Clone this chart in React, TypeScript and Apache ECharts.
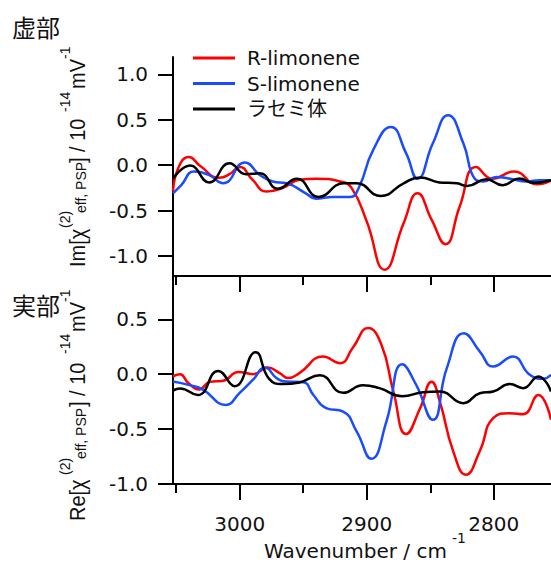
import React, { useEffect, useRef } from "react";
import * as echarts from "echarts";

const seriesNames = ["R-limonene", "S-limonene", "ラセミ体"];
const seriesColors = ["#ff0000", "#1a4bff", "#000000"];

// 虚部 (imaginary part)
const imRWave = [3052.5, 3048, 3040, 3031, 3016, 3008, 3000, 2990, 2979, 2966, 2953, 2940, 2921, 2912, 2900, 2886, 2871, 2860, 2849, 2838, 2827, 2814, 2801, 2784, 2766, 2755];
const imRVal = [-0.29, -0.02, 0.09, -0.01, -0.14, -0.1, -0.02, -0.16, -0.29, -0.25, -0.16, -0.15, -0.18, -0.25, -0.62, -1.15, -0.64, -0.31, -0.6, -0.87, -0.46, -0.02, -0.15, -0.07, -0.21, -0.17];

const imSWave = [3052.5, 3046, 3036, 3024, 3013, 2996, 2984, 2974, 2963, 2948, 2940, 2927, 2913, 2906, 2895, 2881, 2869, 2860, 2848, 2836, 2824, 2815, 2808, 2798, 2787, 2774, 2764, 2755];
const imSVal = [-0.31, -0.22, -0.07, -0.11, -0.2, 0.03, -0.11, -0.18, -0.2, -0.31, -0.37, -0.35, -0.35, -0.24, 0.165, 0.42, 0.13, -0.15, 0.24, 0.55, 0.24, -0.15, -0.18, -0.13, -0.15, -0.18, -0.165, -0.165];

const imRacWave = [3052.5, 3039, 3024, 3008, 2995, 2984, 2970, 2955, 2938, 2918, 2908, 2889, 2871, 2858, 2843, 2829, 2821, 2806, 2793, 2780, 2769, 2755];
const imRacVal = [-0.15, -0.005, -0.19, 0.02, -0.1, -0.09, -0.26, -0.15, -0.35, -0.2, -0.2, -0.34, -0.2, -0.135, -0.19, -0.2, -0.23, -0.155, -0.22, -0.147, -0.195, -0.165];

// 実部 (real part)
const reRWave = [3052.5, 3047, 3040.5, 3032, 3023.5, 3013, 3001, 2989.5, 2978, 2968.5, 2962, 2953, 2934.5, 2921, 2911, 2899, 2888.5, 2879, 2869, 2858, 2849, 2842.5, 2832, 2822, 2811, 2800.5, 2787.5, 2777, 2765, 2755];
const reRVal = [-0.02, 0.0, -0.08, -0.14, -0.07, -0.06, 0.02, 0.0, 0.06, 0.01, -0.035, 0.01, 0.16, 0.1, 0.24, 0.42, 0.27, -0.16, -0.545, -0.31, -0.07, -0.25, -0.7, -0.915, -0.7, -0.4, -0.355, -0.365, -0.19, -0.415];

const reSWave = [3052.5, 3039.5, 3029, 3011, 3000, 2989.5, 2980, 2971, 2963, 2950, 2942, 2932, 2918.6, 2908, 2896.3, 2884.5, 2872, 2861, 2848, 2837, 2823.5, 2811, 2800.5, 2785, 2771.7, 2761, 2755];
const reSVal = [-0.067, -0.1, -0.14, -0.28, -0.17, -0.05, 0.06, -0.036, -0.067, -0.073, -0.19, -0.31, -0.34, -0.52, -0.77, -0.43, 0.09, -0.1, -0.415, 0.055, 0.373, 0.206, 0.07, 0.16, -0.006, -0.042, -0.006];

const reRacWave = [3052.5, 3047, 3033, 3017, 3004, 2987.5, 2977, 2966, 2953, 2937, 2918.6, 2903, 2890, 2872, 2855.6, 2842.5, 2824, 2811, 2800.5, 2787.4, 2777, 2765, 2755];
const reRacVal = [-0.15, -0.13, -0.19, 0.03, -0.11, 0.2, -0.04, -0.09, -0.075, -0.01, -0.17, -0.1, -0.127, -0.2, -0.164, -0.158, -0.264, -0.173, -0.158, -0.09, -0.127, -0.02, -0.158];

const yTicksIm = [-1, -0.5, 0, 0.5, 1];
const yTicksRe = [-1, -0.5, 0, 0.5];
const xMajorTicks = [3000, 2900, 2800];
const xMinorTicks = [3050, 2950, 2850];

const pairs = (w: number[], v: number[]) => w.map((x, i) => [x, v[i]]);

const LATIN = "DejaVu Sans, Noto Sans CJK JP, sans-serif";
const TITLE = "Liberation Sans, Arial, sans-serif";

function xAxisDef(grid: number, major: boolean, labels: boolean) {
  return {
    gridIndex: grid,
    type: "value",
    position: "bottom",
    inverse: true,
    min: 2755,
    max: 3052.5,
    axisLine: { show: major, onZero: false, lineStyle: { color: "#000", width: 2 } },
    axisTick: {
      show: true,
      inside: false,
      customValues: major ? xMajorTicks : xMinorTicks,
      length: major ? 16 : 9,
      lineStyle: { color: "#000", width: 2 },
    },
    axisLabel: labels
      ? {
          show: true,
          customValues: xMajorTicks,
          margin: 30,
          color: "#111",
          fontSize: 20,
          fontFamily: LATIN,
          formatter: (v: number) => String(v),
        }
      : { show: false },
    splitLine: { show: false },
  };
}

function yAxisDef(grid: number, min: number, max: number, ticks: number[]) {
  return {
    gridIndex: grid,
    type: "value",
    min,
    max,
    axisLine: { show: true, onZero: false, lineStyle: { color: "#000", width: 2 } },
    axisTick: { show: true, customValues: ticks, length: 15, lineStyle: { color: "#000", width: 2 } },
    axisLabel: {
      show: true,
      customValues: ticks,
      margin: 25,
      color: "#111",
      fontSize: 20,
      fontFamily: LATIN,
      formatter: (v: number) => v.toFixed(1),
    },
    splitLine: { show: false },
  };
}

function titlePieces(parts: [string, number, boolean, number][]) {
  return parts.map(([text, x, small, y]) => ({
    type: "text",
    x,
    y,
    style: {
      text,
      fill: "#111",
      fontSize: small ? 14 : 20,
      fontFamily: TITLE,
      align: "left",
      verticalAlign: "middle",
      textAlign: "left",
      textVerticalAlign: "middle",
    },
  }));
}

export default function App() {
  const ref = useRef<HTMLDivElement>(null);
  useEffect(() => {
    if (!ref.current) return;
    const chart = echarts.init(ref.current, null, { renderer: "svg" });
    const line = (name: number, data: number[][], xi: number, yi: number) => ({
      type: "line",
      name: seriesNames[name],
      data,
      xAxisIndex: xi,
      yAxisIndex: yi,
      smooth: 0.5,
      symbol: "none",
      showSymbol: false,
      lineStyle: { width: 2.5, color: seriesColors[name] },
      itemStyle: { color: seriesColors[name] },
      z: 2 + name,
    });
    chart.setOption({
      animation: false,
      backgroundColor: "#fff",
      grid: [
        { left: 173, top: 57, width: 378, height: 219 },
        { left: 173, top: 276, width: 378, height: 208 },
      ],
      xAxis: [xAxisDef(0, true, false), xAxisDef(0, false, false), xAxisDef(1, true, true), xAxisDef(1, false, false)],
      yAxis: [yAxisDef(0, -1.22, 1.19, yTicksIm), yAxisDef(1, -1.0, 0.894, yTicksRe)],
      legend: {
        data: seriesNames,
        orient: "vertical",
        left: 188,
        top: 43,
        itemWidth: 42,
        itemHeight: 3,
        itemGap: 5.5,
        icon: "rect",
        textStyle: { fontSize: 20, fontFamily: LATIN, color: "#111", lineHeight: 20, padding: [0, 0, 0, 7] },
      },
      series: [
        line(0, pairs(imRWave, imRVal), 0, 0),
        line(1, pairs(imSWave, imSVal), 0, 0),
        line(2, pairs(imRacWave, imRacVal), 0, 0),
        line(0, pairs(reRWave, reRVal), 2, 1),
        line(1, pairs(reSWave, reSVal), 2, 1),
        line(2, pairs(reRacWave, reRacVal), 2, 1),
      ],
      graphic: [
        {
          type: "text",
          x: 12,
          y: 26,
          style: { text: "虚部", fill: "#111", fontSize: 24, fontFamily: "Noto Sans CJK JP", align: "left", verticalAlign: "middle", textAlign: "left", textVerticalAlign: "middle" },
        },
        {
          type: "text",
          x: 12,
          y: 304,
          style: { text: "実部", fill: "#111", fontSize: 24, fontFamily: "Noto Sans CJK JP", align: "left", verticalAlign: "middle", textAlign: "left", textVerticalAlign: "middle" },
        },
        {
          type: "text",
          x: 264,
          y: 551,
          style: { text: "Wavenumber / cm", fill: "#111", fontSize: 20, lineHeight: 16, fontFamily: LATIN, align: "left", verticalAlign: "middle", textAlign: "left", textVerticalAlign: "middle" },
        },
        {
          type: "text",
          x: 452,
          y: 538,
          style: { text: "-1", fill: "#111", fontSize: 14, fontFamily: LATIN, align: "left", verticalAlign: "middle", textAlign: "left", textVerticalAlign: "middle" },
        },
        {
          type: "group",
          x: 77.5,
          y: 267,
          rotation: Math.PI / 2,
          scaleY: 1.1,
          children: titlePieces([
            ["Im[χ", 0, false, 0],
            ["(2)", 39, true, -12],
            ["eff, PSP", 54, true, 3],
            ["] / 10", 104, false, 0],
            ["-14", 155, true, -12],
            ["mV", 178, false, 0],
            ["-1", 208, true, -12],
          ]),
        },
        {
          type: "group",
          x: 77.5,
          y: 521,
          rotation: Math.PI / 2,
          scaleY: 1.1,
          children: titlePieces([
            ["Re[χ", 0, false, 0],
            ["(2)", 46, true, -12],
            ["eff, PSP", 62, true, 3],
            ["] / 10", 114, false, 0],
            ["-14", 167, true, -12],
            ["mV", 189, false, 0],
            ["-1", 219, true, -12],
          ]),
        },
      ],
    });
    return () => chart.dispose();
  }, []);
  return <div ref={ref} style={{ position: "absolute", left: 0, top: 0, width: 551, height: 563 }} />;
}
